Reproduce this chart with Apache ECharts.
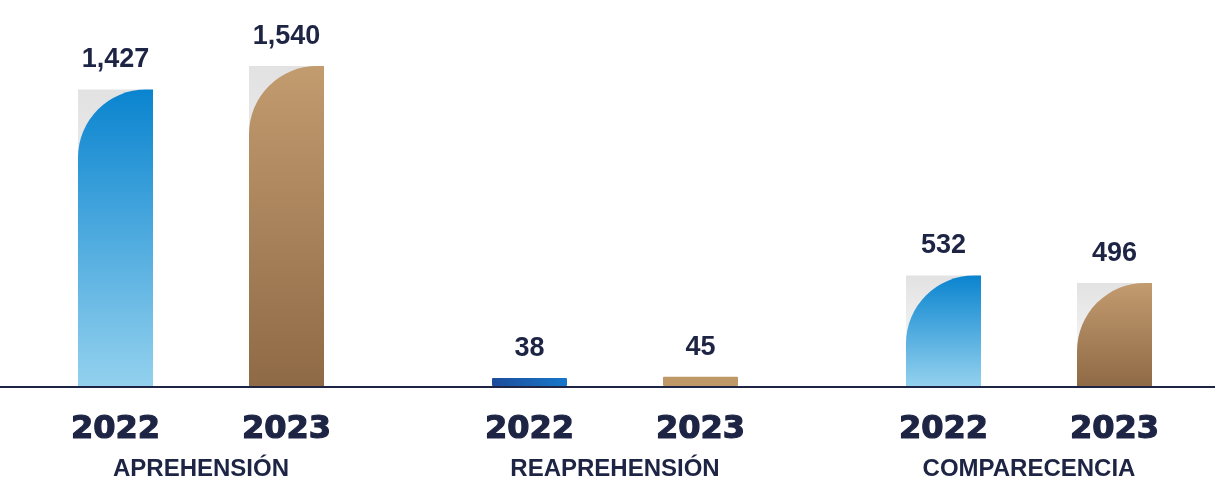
<!DOCTYPE html>
<html>
<head>
<meta charset="utf-8">
<script src="https://cdn.jsdelivr.net/npm/echarts@6/dist/echarts.min.js"></script>
<style>
html,body{margin:0;padding:0;background:#fff;}
#chart{width:1215px;height:481px;}
</style>
</head>
<body>
<div id="chart"></div>
<script>
var categories = ['APREHENSIÓN', 'REAPREHENSIÓN', 'COMPARECENCIA'];
var years = ['2022', '2023'];
var values2022 = [1427, 38, 532];
var values2023 = [1540, 45, 496];

var navy = '#1d2444';
var chart = echarts.init(document.getElementById('chart'));

function grad(c1, c2, horizontal) {
  return new echarts.graphic.LinearGradient(0, 0, horizontal ? 1 : 0, horizontal ? 0 : 1, [
    {offset: 0, color: c1},
    {offset: 1, color: c2}
  ]);
}

function barSeries(name, data, colorTop, colorBottom, smallColor) {
  return {
    name: name,
    type: 'bar',
    xAxisIndex: 0,
    yAxisIndex: 0,
    data: data.map(function (v) {
      return v < 100 ? {value: v, itemStyle: {borderRadius: 1, color: smallColor}} : v;
    }),
    barWidth: 75,
    barGap: '128%',
    z: 3,
    itemStyle: {
      borderRadius: [68, 0, 0, 0],
      color: grad(colorTop, colorBottom, false)
    },
    label: {
      show: true,
      position: 'top',
      distance: 16,
      color: navy,
      fontSize: 27,
      fontWeight: 'bold',
      fontFamily: 'Liberation Sans, Arial, sans-serif',
      formatter: function (p) { return p.value.toLocaleString('en-US'); }
    }
  };
}

function shadowSeries(name, data) {
  return {
    name: name + '-bg',
    type: 'bar',
    xAxisIndex: 1,
    yAxisIndex: 0,
    data: data.map(function (v) { return v < 100 ? 0 : v; }),
    barWidth: 75,
    barGap: '128%',
    silent: true,
    z: 1,
    itemStyle: {
      color: grad('#e2e2e2', '#ffffff', false)
    }
  };
}

var option = {
  backgroundColor: '#ffffff',
  animation: false,
  grid: [
    {left: 201, right: 186, top: 12, bottom: 94, containLabel: false},
    {left: 0, right: 0, top: 12, bottom: 94, containLabel: false}
  ],
  xAxis: [{
    type: 'category',
    gridIndex: 0,
    data: categories,
    boundaryGap: false,
    axisTick: {show: false},
    axisLine: {show: false},
    axisLabel: {
      margin: 23,
      interval: 0,
      formatter: function (v) {
        return '{y|' + years[0] + '}{g|}{y|' + years[1] + '}\n{c|' + v + '}';
      },
      rich: {
        y: {width: 86, align: 'center', fontSize: 32, lineHeight: 41, fontWeight: 'bold', color: navy,
            textBorderColor: navy, textBorderWidth: 1.2, fontFamily: 'DejaVu Sans, sans-serif'},
        g: {width: 85},
        c: {fontSize: 24, lineHeight: 38, fontWeight: 'bold', color: navy, fontFamily: 'Liberation Sans, Arial, sans-serif', align: 'center'}
      }
    }
  }, {
    type: 'category',
    gridIndex: 0,
    data: categories,
    boundaryGap: false,
    show: false
  }, {
    type: 'value',
    gridIndex: 1,
    min: 0,
    max: 1,
    axisLine: {show: true, onZero: false, lineStyle: {color: navy, width: 2}},
    axisTick: {show: false},
    axisLabel: {show: false},
    splitLine: {show: false}
  }],
  yAxis: [
    {type: 'value', gridIndex: 0, min: 0, max: 1800, show: false, splitLine: {show: false}},
    {type: 'value', gridIndex: 1, min: 0, max: 1, show: false, splitLine: {show: false}}
  ],
  series: [
    shadowSeries(years[0], values2022),
    shadowSeries(years[1], values2023),
    barSeries(years[0], values2022, '#0a84cf', '#93d1ee', grad('#1d4c9c', '#1678ca', true)),
    barSeries(years[1], values2023, '#c29b6f', '#8f6a46', '#bf9868')
  ]
};
chart.setOption(option);
</script>
</body>
</html>
